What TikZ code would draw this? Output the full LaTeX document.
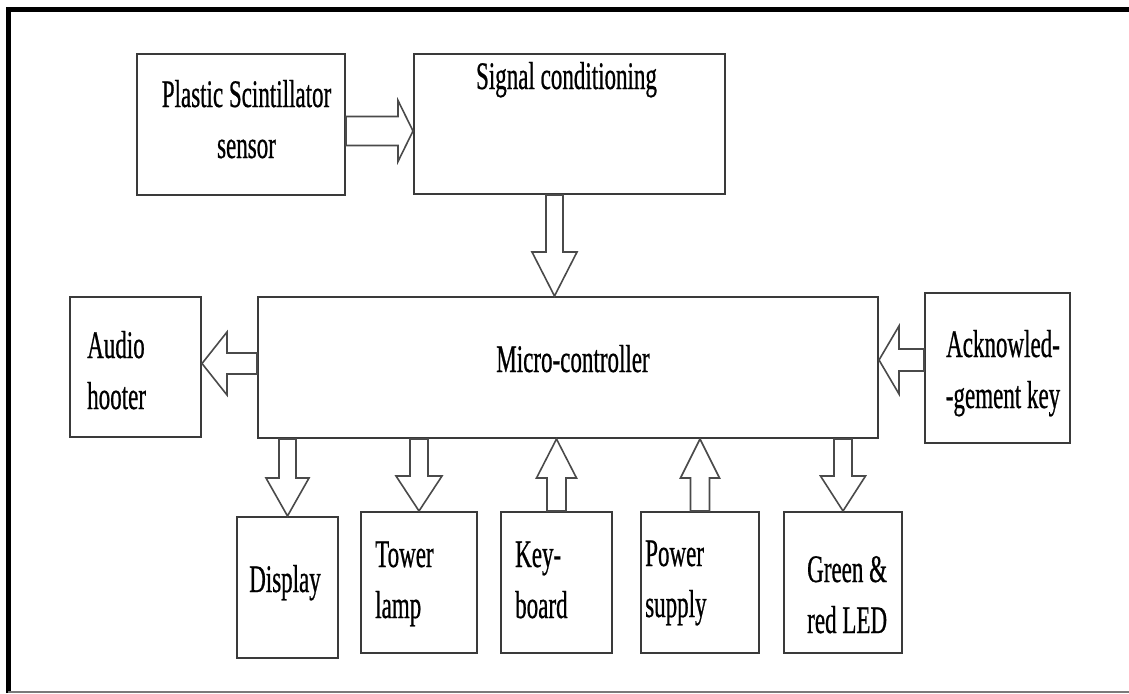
\documentclass[tikz,border=0pt]{standalone}
\usepackage{fontspec}
\setmainfont{Liberation Serif}[FakeStretch=0.59, FakeBold=0.6]
\usetikzlibrary{calc}
\definecolor{boxgray}{HTML}{3A3A3A}
\definecolor{arrowgray}{HTML}{4A4A4A}
\definecolor{framegray}{HTML}{7A7A7A}
\tikzset{
  box/.style={draw=boxgray, line width=2pt, fill=white, inner sep=0pt},
  lbl/.style={inner sep=0pt, font=\fontsize{39}{51}\selectfont, text=black},
  blockarrow/.style={draw=arrowgray, line width=1.6pt, fill=white, line join=miter},
}
\newcommand{\blockarr}[5]{%
  \coordinate (ba-s) at (#1);
  \coordinate (ba-e) at (#2);
  \coordinate (ba-b) at ($(ba-e)!#5pt!(ba-s)$);
  \draw[blockarrow] ($(ba-s)!#3pt!90:(ba-e)$) -- ($(ba-b)!#3pt!-90:(ba-s)$)
    -- ($(ba-b)!#4pt!-90:(ba-s)$) -- (ba-e) -- ($(ba-b)!#4pt!90:(ba-s)$)
    -- ($(ba-b)!#3pt!90:(ba-s)$) -- ($(ba-s)!#3pt!-90:(ba-e)$) -- cycle;}
\begin{document}
\begin{tikzpicture}[x=1pt, y=-1pt]
\useasboundingbox (0,0) rectangle (1129,693);
% frame
\draw[line width=5pt] (8,693) -- (8,9.5) -- (1129,9.5);
\draw[framegray, line width=2pt] (8,691.5) -- (1129,691.5);
% boxes
\node[box, minimum width=208pt, minimum height=141pt] (plastic) at (241,124.5) {};
\node[box, minimum width=311pt, minimum height=140pt] (sig) at (569.5,124) {};
\node[box, minimum width=620pt, minimum height=141pt] (mc) at (568,367.5) {};
\node[box, minimum width=131pt, minimum height=140pt] (audio) at (135.5,367) {};
\node[box, minimum width=145pt, minimum height=150pt] (ack) at (997.5,368) {};
\node[box, minimum width=101pt, minimum height=141pt] (disp) at (287.5,587.5) {};
\node[box, minimum width=116pt, minimum height=141pt] (tower) at (419,582.5) {};
\node[box, minimum width=111pt, minimum height=141pt] (keyb) at (556.5,582.5) {};
\node[box, minimum width=118pt, minimum height=141pt] (power) at (700,582.5) {};
\node[box, minimum width=118pt, minimum height=141pt] (green) at (843,582.5) {};
% labels (multi-line nodes: base anchor is on the last line)
\node[lbl, align=center, anchor=base] (tplastic) at (246.5,158) {Plastic Scintillator\\sensor};
\node[lbl, anchor=base] (tsig) at (566.5,89) {Signal conditioning};
\node[lbl, anchor=base] (tmc) at (573,372) {Micro-controller};
\node[lbl, align=left, anchor=base west] (taudio) at (87,409) {Audio\\hooter};
\node[lbl, align=center, anchor=base] (tack) at (1003,408) {Acknowled-\\-gement key};
\node[lbl, anchor=base] (tdisp) at (285,592) {Display};
\node[lbl, align=left, anchor=base west] (ttower) at (375,618) {Tower\\lamp};
\node[lbl, align=left, anchor=base west] (tkeyb) at (515,618) {Key-\\board};
\node[lbl, align=left, anchor=base west] (tpower) at (645,617) {Power\\supply};
\node[lbl, align=left, anchor=base west] (tgreen) at (807,633) {Green \&\\red LED};
% arrows
\coordinate (a1s) at ([yshift=-6.5pt]plastic.east);
\blockarr{a1s}{sig.west |- a1s}{14.5}{30.5}{15}
\coordinate (a2s) at ([xshift=-15pt]sig.south);
\blockarr{a2s}{mc.north -| a2s}{8.5}{22.5}{44}
\coordinate (a3s) at ([yshift=4pt]mc.west);
\blockarr{a3s}{audio.east |- a3s}{10.5}{31.5}{25}
\coordinate (a4s) at ([yshift=8pt]ack.west);
\blockarr{a4s}{mc.east |- a4s}{11}{34}{20}
\blockarr{mc.south -| disp.north}{disp.north}{8.5}{21.5}{38}
\blockarr{mc.south -| tower.north}{tower.north}{9}{23}{35}
\blockarr{keyb.north}{mc.south -| keyb.north}{9.5}{20}{39}
\blockarr{power.north}{mc.south -| power.north}{9.5}{19.5}{39}
\blockarr{mc.south -| green.north}{green.north}{9}{22.5}{35}
\end{tikzpicture}
\end{document}
